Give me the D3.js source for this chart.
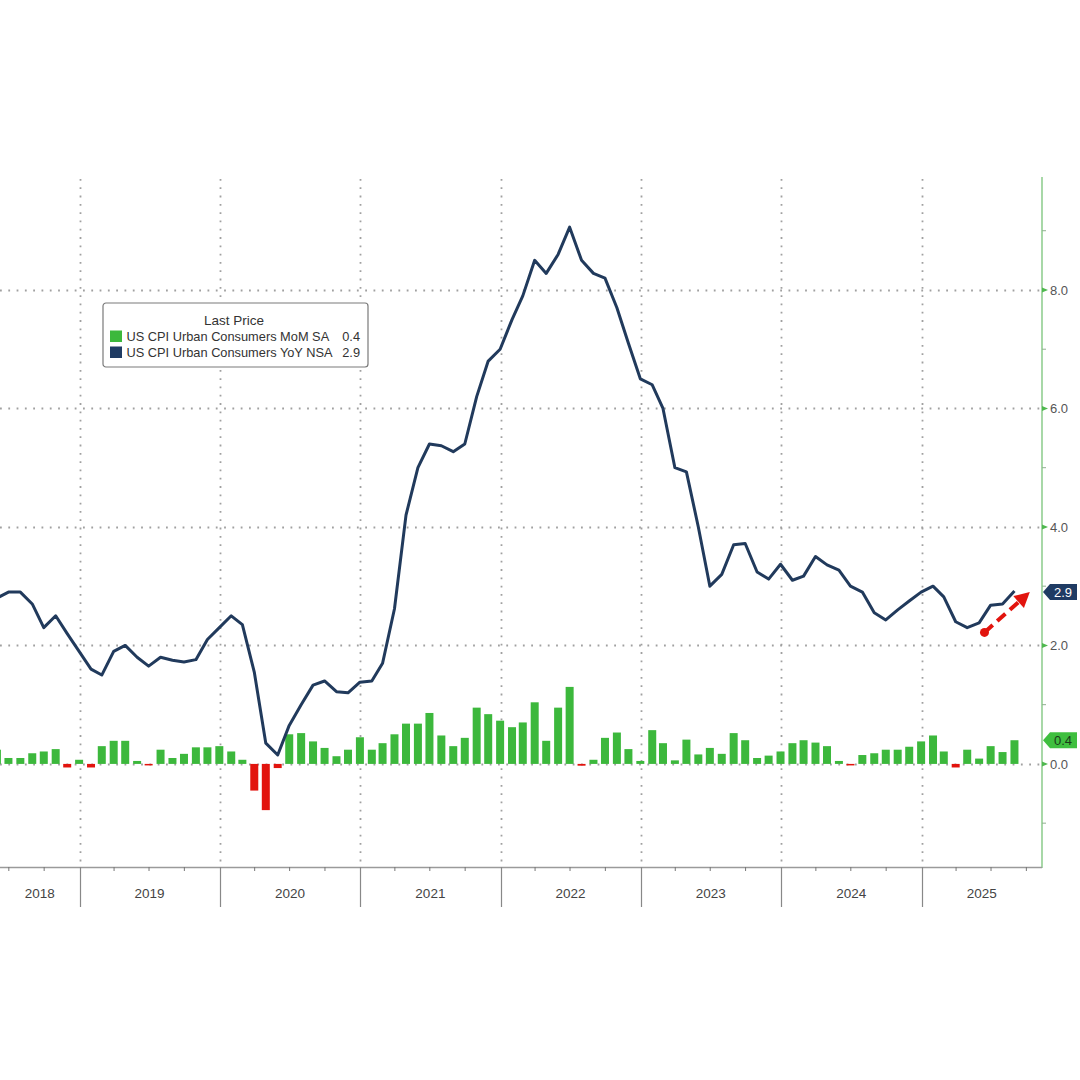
<!DOCTYPE html>
<html><head><meta charset="utf-8">
<script src="https://cdn.jsdelivr.net/npm/d3@7"></script>
<style>body{margin:0;background:#fff} svg{display:block}</style>
</head><body>
<script>
// ---------- DATA ----------
const months = [
  "2018-05","2018-06","2018-07","2018-08","2018-09","2018-10","2018-11","2018-12",
  "2019-01","2019-02","2019-03","2019-04","2019-05","2019-06","2019-07","2019-08","2019-09","2019-10","2019-11","2019-12",
  "2020-01","2020-02","2020-03","2020-04","2020-05","2020-06","2020-07","2020-08","2020-09","2020-10","2020-11","2020-12",
  "2021-01","2021-02","2021-03","2021-04","2021-05","2021-06","2021-07","2021-08","2021-09","2021-10","2021-11","2021-12",
  "2022-01","2022-02","2022-03","2022-04","2022-05","2022-06","2022-07","2022-08","2022-09","2022-10","2022-11","2022-12",
  "2023-01","2023-02","2023-03","2023-04","2023-05","2023-06","2023-07","2023-08","2023-09","2023-10","2023-11","2023-12",
  "2024-01","2024-02","2024-03","2024-04","2024-05","2024-06","2024-07","2024-08","2024-09","2024-10","2024-11","2024-12",
  "2025-01","2025-02","2025-03","2025-04","2025-05","2025-06","2025-07","2025-08"
];
// US CPI Urban Consumers YoY NSA (%)
const yoy = [
  2.8,2.9,2.9,2.7,2.3,2.5,2.2,1.9,
  1.6,1.5,1.9,2.0,1.8,1.65,1.8,1.75,1.72,1.76,2.1,2.3,
  2.5,2.35,1.55,0.35,0.15,0.65,1.0,1.33,1.4,1.22,1.2,1.38,
  1.4,1.7,2.62,4.2,5.0,5.4,5.37,5.27,5.4,6.2,6.8,7.0,
  7.5,7.9,8.5,8.28,8.6,9.06,8.5,8.28,8.2,7.7,7.1,6.5,
  6.4,6.0,5.0,4.93,4.0,3.0,3.2,3.7,3.72,3.24,3.12,3.37,
  3.1,3.17,3.5,3.36,3.27,3.0,2.9,2.55,2.43,2.6,2.75,2.9,
  3.0,2.82,2.4,2.3,2.38,2.68,2.7,2.92
];
// US CPI Urban Consumers MoM SA (%)
const mom = [
  0.24,0.10,0.10,0.18,0.21,0.25,-0.06,0.07,
  -0.06,0.30,0.39,0.39,0.05,-0.02,0.24,0.10,0.17,0.28,0.28,0.30,
  0.21,0.07,-0.45,-0.78,-0.07,0.50,0.52,0.38,0.27,0.13,0.24,0.45,
  0.24,0.35,0.50,0.68,0.68,0.86,0.48,0.30,0.44,0.95,0.84,0.73,
  0.62,0.70,1.04,0.39,0.95,1.30,-0.03,0.07,0.44,0.53,0.25,0.05,
  0.57,0.35,0.06,0.41,0.16,0.27,0.17,0.52,0.40,0.10,0.14,0.21,
  0.35,0.40,0.36,0.30,0.05,-0.02,0.15,0.18,0.24,0.24,0.29,0.38,
  0.48,0.21,-0.06,0.24,0.09,0.30,0.20,0.40
];
const yTicks = [0, 2, 4, 6, 8];
const yMinorTicks = [-1, 1, 3, 5, 7, 9];
const years = ["2018","2019","2020","2021","2022","2023","2024","2025"];
const legendTitle = "Last Price";
const legendLabels = ["US CPI Urban Consumers MoM SA", "US CPI Urban Consumers YoY NSA"];
const legendValues = ["0.4", "2.9"];
// annotation arrow (date, value) start -> tip
const arrowStart = ["2025-06-14", 2.22];
const arrowTip = ["2025-10-10", 2.9];

// ---------- STYLE ----------
const W = 1080, H = 1080;
const plotL = 0, plotR = 1042, plotT = 177, plotB = 867;
const navy = "#213a5c", green = "#3cb83c", red = "#e2140e";
const FONT = "'Liberation Sans', Arial, sans-serif";

const svg = d3.select("body").append("svg").attr("width", W).attr("height", H);
svg.append("rect").attr("width", W).attr("height", H).attr("fill", "#fff");

const parse = s => { const [Y, M] = s.split("-").map(Number); return new Date(Y, M, 0); }; // month end
const x = d3.scaleTime().domain([new Date(2019,0,1), new Date(2025,0,1)]).range([79.5, 921.5]);
const y = d3.scaleLinear().domain([-1.74, 9.89]).range([plotB, 178]);

const data = months.map((m, i) => ({ date: parse(m), yoy: yoy[i], mom: mom[i] }));

svg.append("clipPath").attr("id", "clip").append("rect")
  .attr("x", plotL).attr("y", plotT).attr("width", plotR - plotL).attr("height", plotB - plotT);

// gridlines
const grid = svg.append("g");
grid.selectAll("line.h").data(yTicks).join("line")
  .attr("x1", plotL).attr("x2", plotR - 2)
  .attr("y1", d => Math.round(y(d)) + 0.5).attr("y2", d => Math.round(y(d)) + 0.5)
  .attr("stroke", "#a0a0a0").attr("stroke-width", 1.8).attr("stroke-dasharray", "1.8,6.5");
const yearStarts = years.slice(1).map(yy => new Date(+yy, 0, 1));
grid.selectAll("line.v").data(yearStarts).join("line")
  .attr("x1", d => Math.round(x(d)) + 0.5).attr("x2", d => Math.round(x(d)) + 0.5)
  .attr("y1", plotT + 2).attr("y2", plotB)
  .attr("stroke", "#a0a0a0").attr("stroke-width", 1.8).attr("stroke-dasharray", "1.8,6.5");

// bars
const g = svg.append("g").attr("clip-path", "url(#clip)");
const bw = 8;
g.selectAll("rect.bar").data(data).join("rect")
  .attr("x", d => x(d.date) - bw / 2).attr("width", bw)
  .attr("y", d => d.mom >= 0 ? y(d.mom) : y(0))
  .attr("height", d => Math.max(1.5, Math.abs(y(d.mom) - y(0))))
  .attr("fill", d => d.mom >= 0 ? green : red);

// line
g.append("path").datum(data)
  .attr("d", d3.line().x(d => x(d.date)).y(d => y(d.yoy)))
  .attr("fill", "none").attr("stroke", navy).attr("stroke-width", 3)
  .attr("stroke-linejoin", "round");

// right axis
const ax = svg.append("g");
ax.append("line").attr("x1", plotR).attr("x2", plotR).attr("y1", plotT).attr("y2", plotB + 1)
  .attr("stroke", "#92cf92").attr("stroke-width", 1.6);
ax.selectAll("line.minor").data(yMinorTicks).join("line")
  .attr("x1", plotR).attr("x2", plotR + 4)
  .attr("y1", d => y(d)).attr("y2", d => y(d))
  .attr("stroke", "#8fb08f").attr("stroke-width", 1);
ax.selectAll("path.maj").data(yTicks).join("path")
  .attr("d", d => `M${plotR},${y(d) - 2.5}L${plotR + 6},${y(d)}L${plotR},${y(d) + 2.5}Z`)
  .attr("fill", "#4fb84f");
ax.selectAll("text.lab").data(yTicks).join("text")
  .attr("x", plotR + 8).attr("y", d => y(d)).attr("dy", "0.36em")
  .attr("font-family", FONT).attr("font-size", 13).attr("fill", "#555")
  .text(d => d3.format(".1f")(d));

// value tags
function tag(val, fill, txtFill, label) {
  const cy = y(val);
  svg.append("path")
    .attr("d", `M${plotR + 1},${cy}L${plotR + 8},${cy - 8}L${plotR + 35},${cy - 8}L${plotR + 35},${cy + 8}L${plotR + 8},${cy + 8}Z`)
    .attr("fill", fill);
  svg.append("text").attr("x", plotR + 21).attr("y", cy).attr("dy", "0.36em")
    .attr("text-anchor", "middle").attr("font-family", FONT).attr("font-size", 13)
    .attr("fill", txtFill).text(label);
}
tag(+legendValues[1], "#1f3b63", "#fff", legendValues[1]);
tag(+legendValues[0], "#3fbf3f", "#1a3a1a", legendValues[0]);

// bottom axis
const bx = svg.append("g");
bx.append("line").attr("x1", plotL).attr("x2", plotR).attr("y1", plotB + 0.5).attr("y2", plotB + 0.5)
  .attr("stroke", "#9a9a9a").attr("stroke-width", 1.5);
const quarterTicks = d3.timeMonth.every(3).range(new Date(2018,3,1), new Date(2025,11,1))
  .filter(d => d.getMonth() !== 0 && x(d) >= plotL && x(d) <= plotR);
bx.selectAll("line.q").data(quarterTicks).join("line")
  .attr("x1", d => x(d)).attr("x2", d => x(d)).attr("y1", plotB).attr("y2", plotB + 4)
  .attr("stroke", "#777").attr("stroke-width", 1);
bx.selectAll("line.ys").data(yearStarts).join("line")
  .attr("x1", d => Math.round(x(d)) + 0.5).attr("x2", d => Math.round(x(d)) + 0.5)
  .attr("y1", plotB).attr("y2", plotB + 40)
  .attr("stroke", "#888").attr("stroke-width", 1.2);
bx.selectAll("text.yr").data(years).join("text")
  .attr("x", d => {
    const a = Math.max(plotL, x(new Date(+d, 0, 1)));
    const b = Math.min(plotR, x(new Date(+d + 1, 0, 1)));
    return (a + b) / 2;
  })
  .attr("y", plotB + 31).attr("text-anchor", "middle")
  .attr("font-family", FONT).attr("font-size", 13.5).attr("fill", "#444")
  .text(d => d);

// legend
const lg = svg.append("g").attr("transform", "translate(103,303)");
lg.append("rect").attr("width", 265).attr("height", 64).attr("rx", 3)
  .attr("fill", "#fff").attr("stroke", "#7a7a7a").attr("stroke-width", 1.2);
lg.append("text").attr("x", 131).attr("y", 22).attr("text-anchor", "middle")
  .attr("font-family", FONT).attr("font-size", 13.5).attr("fill", "#333").text(legendTitle);
const lcol = [green, "#1f3b63"];
legendLabels.forEach((l, i) => {
  const yy = 38 + i * 16;
  lg.append("rect").attr("x", 7).attr("y", yy - 10.5).attr("width", 12).attr("height", 11.5).attr("fill", lcol[i]);
  lg.append("text").attr("x", 23.5).attr("y", yy).attr("font-family", FONT).attr("font-size", 12.8)
    .attr("fill", "#333").text(l);
  lg.append("text").attr("x", 257).attr("y", yy).attr("text-anchor", "end").attr("font-family", FONT)
    .attr("font-size", 12.8).attr("fill", "#333").text(legendValues[i]);
});

// annotation arrow
const sx = x(new Date(arrowStart[0])), sy = y(arrowStart[1]);
const tx = x(new Date(arrowTip[0])), ty = y(arrowTip[1]);
const dx = tx - sx, dy = ty - sy, len = Math.hypot(dx, dy), ux = dx / len, uy = dy / len;
const headL = 15, headW = 8;
const bxp = tx - ux * headL, byp = ty - uy * headL;
svg.append("line").attr("x1", sx).attr("y1", sy).attr("x2", bxp + ux * 2).attr("y2", byp + uy * 2)
  .attr("stroke", red).attr("stroke-width", 4).attr("stroke-dasharray", "11,6");
svg.append("circle").attr("cx", sx).attr("cy", sy).attr("r", 4.5).attr("fill", red);
svg.append("path")
  .attr("d", `M${tx},${ty}L${bxp - uy * headW},${byp + ux * headW}L${bxp + uy * headW},${byp - ux * headW}Z`)
  .attr("fill", red);
</script>
</body></html>
